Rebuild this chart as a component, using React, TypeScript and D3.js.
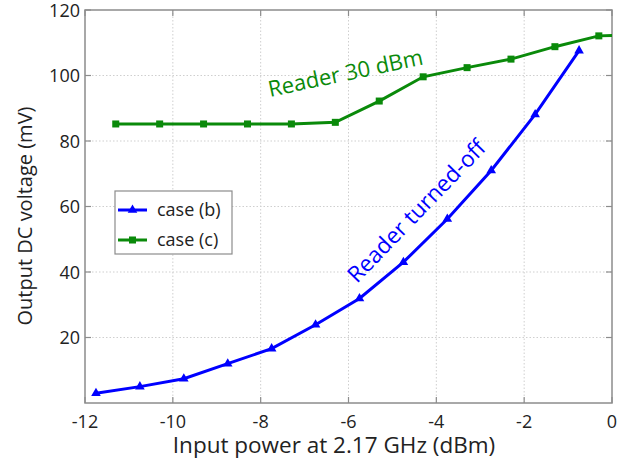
import { useEffect, useRef } from 'react';
import * as d3 from 'd3';

const xTicks = [-12, -10, -8, -6, -4, -2, 0];
const yTicks = [20, 40, 60, 80, 100, 120];

const caseBPower = [-11.75, -10.75, -9.75, -8.75, -7.75, -6.75, -5.75, -4.75, -3.75, -2.75, -1.75, -0.75];
const caseBVoltage = [3.0, 5.0, 7.4, 12.0, 16.6, 23.9, 31.9, 43.0, 56.2, 71.0, 88.1, 107.6];

const caseCPower = [-11.3, -10.3, -9.3, -8.3, -7.3, -6.3, -5.3, -4.3, -3.3, -2.3, -1.3, -0.3, 0.7];
const caseCVoltage = [85.2, 85.2, 85.2, 85.2, 85.2, 85.7, 92.2, 99.6, 102.4, 105.0, 108.8, 112.1, 112.6];

const FONT = '"Open Sans", Lato, sans-serif';
const BLUE = '#0000ff';
const GREEN = '#0a8a0a';

export default function App() {
  const svgRef = useRef<SVGSVGElement>(null);

  useEffect(() => {
    if (!svgRef.current) return;
    const svg = d3.select(svgRef.current);
    svg.selectAll('*').remove();

    const width = 630;
    const height = 461;
    const m = { top: 10, right: 18, bottom: 58, left: 85 };
    const x = d3.scaleLinear().domain([-12, 0]).range([m.left, width - m.right]);
    const y = d3.scaleLinear().domain([0, 120]).range([height - m.bottom, m.top]);

    svg.attr('width', width).attr('height', height);

    svg.append('clipPath').attr('id', 'plot-clip')
      .append('rect')
      .attr('x', m.left).attr('y', m.top)
      .attr('width', x(0) - m.left).attr('height', y(0) - m.top);

    // grid
    const grid = svg.append('g').attr('stroke', '#cfcfcf').attr('stroke-width', 1).attr('stroke-dasharray', '1.5,2');
    xTicks.slice(1, -1).forEach((t) => {
      grid.append('line').attr('x1', x(t)).attr('x2', x(t)).attr('y1', y(0)).attr('y2', y(120));
    });
    yTicks.slice(0, -1).forEach((t) => {
      grid.append('line').attr('x1', x(-12)).attr('x2', x(0)).attr('y1', y(t)).attr('y2', y(t));
    });

    // box + inner ticks
    const axisColor = '#8c8c8c';
    svg.append('rect')
      .attr('x', x(-12)).attr('y', y(120))
      .attr('width', x(0) - x(-12)).attr('height', y(0) - y(120))
      .attr('fill', 'none').attr('stroke', axisColor).attr('stroke-width', 1.5);
    const tk = svg.append('g').attr('stroke', axisColor).attr('stroke-width', 1.2);
    xTicks.forEach((t) => {
      tk.append('line').attr('x1', x(t)).attr('x2', x(t)).attr('y1', y(0)).attr('y2', y(0) - 6);
      tk.append('line').attr('x1', x(t)).attr('x2', x(t)).attr('y1', y(120)).attr('y2', y(120) + 6);
    });
    yTicks.forEach((t) => {
      tk.append('line').attr('x1', x(-12)).attr('x2', x(-12) + 6).attr('y1', y(t)).attr('y2', y(t));
      tk.append('line').attr('x1', x(0)).attr('x2', x(0) - 6).attr('y1', y(t)).attr('y2', y(t));
    });

    // tick labels
    xTicks.forEach((t) => {
      svg.append('text')
        .attr('x', x(t)).attr('y', y(0) + 25)
        .attr('text-anchor', 'middle')
        .attr('font-family', FONT).attr('font-size', 18).attr('fill', '#222')
        .text(t);
    });
    yTicks.forEach((t) => {
      svg.append('text')
        .attr('x', x(-12) - 5).attr('y', y(t) + 6.5)
        .attr('text-anchor', 'end')
        .attr('font-family', FONT).attr('font-size', 18).attr('fill', '#222')
        .text(t);
    });

    // axis titles
    svg.append('text')
      .attr('x', 334).attr('y', 453)
      .attr('text-anchor', 'middle')
      .attr('font-family', FONT).attr('font-size', 22.5).attr('fill', '#222')
      .text('Input power at 2.17 GHz (dBm)');
    svg.append('text')
      .attr('transform', `translate(32, ${216}) rotate(-90)`)
      .attr('text-anchor', 'middle')
      .attr('font-family', FONT).attr('font-size', 20).attr('fill', '#222')
      .text('Output DC voltage (mV)');

    const plot = svg.append('g').attr('clip-path', 'url(#plot-clip)');

    const line = d3.line<[number, number]>().x((d) => x(d[0])).y((d) => y(d[1]));
    const bData: [number, number][] = caseBPower.map((p, i) => [p, caseBVoltage[i]]);
    const cData: [number, number][] = caseCPower.map((p, i) => [p, caseCVoltage[i]]);

    plot.append('path').attr('d', line(cData)).attr('fill', 'none')
      .attr('stroke', GREEN).attr('stroke-width', 3);
    plot.selectAll('rect.mk').data(cData).enter().append('rect')
      .attr('x', (d) => x(d[0]) - 3.5).attr('y', (d) => y(d[1]) - 3.5)
      .attr('width', 7).attr('height', 7).attr('fill', GREEN);

    plot.append('path').attr('d', line(bData)).attr('fill', 'none')
      .attr('stroke', BLUE).attr('stroke-width', 3);
    const tri = d3.symbol().type(d3.symbolTriangle).size(40);
    plot.selectAll('path.mk').data(bData).enter().append('path')
      .attr('class', 'mk')
      .attr('d', tri())
      .attr('transform', (d) => `translate(${x(d[0])}, ${y(d[1])})`)
      .attr('fill', BLUE);

    // annotations
    svg.append('text')
      .attr('transform', `translate(270, 97) rotate(-12)`)
      .attr('font-family', FONT).attr('font-size', 22).attr('fill', GREEN)
      .text('Reader 30 dBm');
    svg.append('text')
      .attr('transform', `translate(357, 284) rotate(-46)`)
      .attr('font-family', FONT).attr('font-size', 22.5).attr('fill', BLUE)
      .text('Reader turned-off');

    // legend
    const lg = svg.append('g');
    lg.append('rect').attr('x', 115).attr('y', 191).attr('width', 117).attr('height', 63)
      .attr('fill', '#fff').attr('stroke', '#8c8c8c').attr('stroke-width', 1.2);
    const entries = [
      { label: 'case (b)', color: BLUE, shape: 'tri', cy: 210 },
      { label: 'case (c)', color: GREEN, shape: 'sq', cy: 240 },
    ];
    entries.forEach((e) => {
      lg.append('line').attr('x1', 118).attr('x2', 147).attr('y1', e.cy).attr('y2', e.cy)
        .attr('stroke', e.color).attr('stroke-width', 3);
      if (e.shape === 'tri') {
        lg.append('path').attr('d', tri()).attr('transform', `translate(132.5, ${e.cy})`).attr('fill', e.color);
      } else {
        lg.append('rect').attr('x', 129).attr('y', e.cy - 3.5).attr('width', 7).attr('height', 7).attr('fill', e.color);
      }
      lg.append('text').attr('x', 157).attr('y', e.cy + 6)
        .attr('font-family', FONT).attr('font-size', 18).attr('fill', '#222')
        .text(e.label);
    });
  }, []);

  return <svg ref={svgRef} style={{ position: 'absolute', left: 0, top: 0 }} />;
}
